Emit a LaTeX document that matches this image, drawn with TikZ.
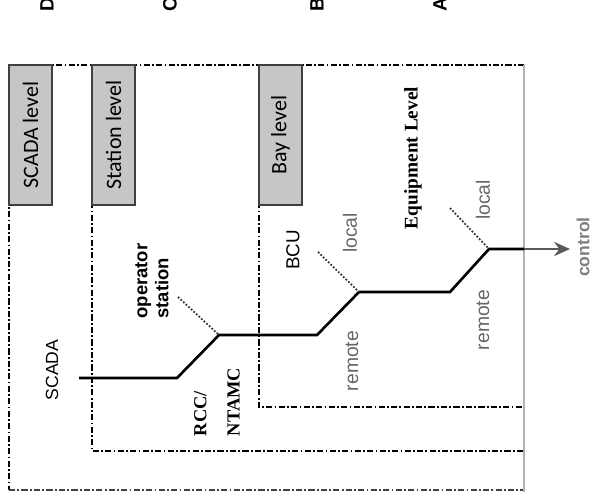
\documentclass[tikz,border=0pt]{standalone}
\usepackage{fontspec}
\setmainfont{Liberation Serif}
\setsansfont{Liberation Sans}
\newfontfamily\calibri{Carlito}
\usetikzlibrary{arrows.meta}

\begin{document}
\begin{tikzpicture}[x=0.02cm,y=-0.02cm,font=\sffamily,
    capline/.style={line width=1.2pt,dash pattern=on 3.5pt off 1.3pt on 1pt off 1.3pt},
    levelbox/.style={draw=black!75,fill=gray!45,line width=0.8pt},
    ctrlline/.style={line width=1.5pt,line join=miter},
    tapline/.style={line width=1pt,densely dotted,black!80},
    tag/.style={rotate=90,inner sep=1pt},
    coltag/.style={tag,font=\sffamily\bfseries\fontsize{11}{12}\selectfont},
    greytag/.style={tag,text=black!60,font=\sffamily\fontsize{11}{13}\selectfont}]
    \useasboundingbox (0,0) rectangle (594,503);
    % Nhãn cột
    \node[coltag] (colD) at (47,5) {D};
    \node[coltag] (colC) at (170,5) {C};
    \node[coltag] (colB) at (317,5) {B};
    \node[coltag] (colA) at (440,5) {A};
    % Khung các cấp (nét gạch chấm)
    \draw[capline] (524,65) -- (9,65) -- (9,490);
    \draw[capline,line width=0.7pt,black!75] (9,490) -- (524,490);
    \draw[capline] (92,65) -- (92,451) -- (524,451);
    \draw[capline] (259,65) -- (259,407) -- (524,407);
    % Cạnh phải
    \draw[gray!60,line width=1.6pt] (524,65) -- (524,492);
    % Hộp tên cấp
    \def\levelbox#1#2#3{
        \draw[levelbox] (#1,65) rectangle (#1+43,205);
        \node[tag,font=\calibri\fontsize{12.5}{14}\selectfont] (#2) at (#1+21.5,135) {#3};
    }
    \levelbox{9}{scadabox}{SCADA level}
    \levelbox{92}{stationbox}{Station level}
    \levelbox{259}{baybox}{Bay level}
    % Đường điều khiển
    \coordinate (s0) at (79,378);
    \coordinate (s1) at (177,378);
    \coordinate (s2) at (219,335);
    \coordinate (s3) at (317,335);
    \coordinate (s4) at (359,292);
    \coordinate (s5) at (450,292);
    \coordinate (s6) at (489,249);
    \coordinate (s7) at (524,249);
    \coordinate (tip) at (570,249);
    \draw[ctrlline] (s0) -- (s1) -- (s2) -- (s3) -- (s4) -- (s5) -- (s6) -- (s7);
    \draw[ctrlline,black!65,-{Stealth[length=9pt,width=8pt]}] (s7) -- (tip);
    % Nhánh chấm
    \coordinate (t1) at (178,297);
    \coordinate (t2) at (318,252);
    \coordinate (t3) at (450,208);
    \draw[tapline] (t1) -- (s2);
    \draw[tapline] (t2) -- (s4);
    \draw[tapline] (t3) -- (s6);
    % Nhãn
    \node[tag,font=\sffamily\fontsize{10}{12}\selectfont] (scada) at (52,370) {SCADA};
    \node[tag,align=left,font=\sffamily\bfseries\fontsize{10.5}{12}\selectfont] (opst) at (152,281) {operator\\station};
    \node[tag,align=left,font=\rmfamily\bfseries\fontsize{10.5}{19}\selectfont] (rcc) at (217,402) {RCC/\\NTAMC};
    \node[tag,font=\sffamily\fontsize{10.7}{12}\selectfont] (bcu) at (293,250) {BCU};
    \node[greytag] (local1) at (350,233) {local};
    \node[greytag] (remote1) at (352,361) {remote};
    \node[tag,font=\rmfamily\bfseries\fontsize{11}{13}\selectfont] (equip) at (413,158) {Equipment Level};
    \node[greytag] (local2) at (483,200) {local};
    \node[greytag] (remote2) at (483,320) {remote};
    \node[tag,text=black!50,font=\sffamily\bfseries\fontsize{10}{12}\selectfont] (ctrl) at (583,247) {control};
\end{tikzpicture}
\end{document}
